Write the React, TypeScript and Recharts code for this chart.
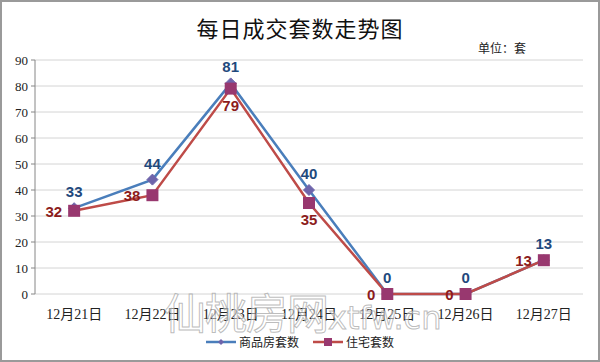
import React from 'react';
import { LineChart, Line, XAxis, YAxis, CartesianGrid, LabelList } from 'recharts';

const categories = ['12月21日', '12月22日', '12月23日', '12月24日', '12月25日', '12月26日', '12月27日'];
const commercialUnits = [33, 44, 81, 40, 0, 0, 13];
const residentialUnits = [32, 38, 79, 35, 0, 0, 13];
const yTicks = [0, 10, 20, 30, 40, 50, 60, 70, 80, 90];
// series 2 labels: which ones sit below the marker (the rest sit to its left)
const residentialBelow = [false, false, true, true, false, false, false];

const BLUE_LINE = '#4a7ebb';
const BLUE_MARK = '#6e64ab';
const BLUE_TEXT = '#1f497d';
const RED_LINE = '#be4b48';
const RED_MARK = '#98386f';
const RED_TEXT = '#8c1c1c';

const data = categories.map((day, i) => ({
  day,
  idx: i + 0.5,
  commercial: commercialUnits[i],
  residential: residentialUnits[i],
}));

const centerTicks = categories.map((_, i) => i + 0.5);
const boundaryTicks = [0, ...categories.map((_, i) => i + 1)];

const labelFont = 'Arial, "Liberation Sans", sans-serif';
const cjkFont = '"Noto Sans CJK SC", sans-serif';

function Diamond(props: any) {
  const { cx, cy } = props;
  if (cx == null || cy == null) return null;
  const r = 5.5;
  return (
    <path
      d={`M${cx},${cy - r} L${cx + r},${cy} L${cx},${cy + r} L${cx - r},${cy} Z`}
      fill={BLUE_MARK}
      stroke={BLUE_MARK}
    />
  );
}

function Square(props: any) {
  const { cx, cy } = props;
  if (cx == null || cy == null) return null;
  const r = 6;
  return <rect x={cx - r} y={cy - r} width={r * 2} height={r * 2} fill={RED_MARK} />;
}

function TopLabel(props: any) {
  const { x, y, value } = props;
  return (
    <text
      x={x}
      y={y - 11}
      textAnchor="middle"
      fill={BLUE_TEXT}
      fontSize={15}
      fontWeight="bold"
      fontFamily={labelFont}
    >
      {value}
    </text>
  );
}

function SideLabel(props: any) {
  const { x, y, value, index } = props;
  if (residentialBelow[index]) {
    return (
      <text
        x={x}
        y={y + 22}
        textAnchor="middle"
        fill={RED_TEXT}
        fontSize={15}
        fontWeight="bold"
        fontFamily={labelFont}
      >
        {value}
      </text>
    );
  }
  return (
    <text
      x={x - 12}
      y={y + 6}
      textAnchor="end"
      fill={RED_TEXT}
      fontSize={15}
      fontWeight="bold"
      fontFamily={labelFont}
    >
      {value}
    </text>
  );
}

function LegendBox() {
  const item = (label: string, color: string, marker: React.ReactNode) => (
    <div style={{ display: 'flex', alignItems: 'center', gap: 3 }}>
      <svg width={30} height={12}>
        <line x1={0} y1={6} x2={30} y2={6} stroke={color} strokeWidth={2.5} />
        {marker}
      </svg>
      <span>{label}</span>
    </div>
  );
  return (
    <div
      style={{
        position: 'absolute',
        left: -2,
        top: 331,
        width: 600,
        display: 'flex',
        justifyContent: 'center',
        gap: 14,
        fontFamily: cjkFont,
        fontSize: 12,
        color: '#222',
      }}
    >
      {item('商品房套数', BLUE_LINE, <path d="M15,3 L18,6 L15,9 L12,6 Z" fill={BLUE_MARK} />)}
      {item('住宅套数', RED_LINE, <rect x={11} y={2} width={8} height={8} fill={RED_MARK} />)}
    </div>
  );
}

export default function App() {
  return (
    <div
      style={{
        position: 'absolute',
        left: 0,
        top: 0,
        width: 600,
        height: 362,
        background: '#fff',
        boxSizing: 'border-box',
        border: '2px solid #9a9a9a',
        overflow: 'hidden',
      }}
    >
      <div
        style={{
          position: 'absolute',
          left: -2,
          top: 9,
          width: 600,
          textAlign: 'center',
          fontFamily: cjkFont,
          fontSize: 22,
          color: '#111',
          letterSpacing: 1,
        }}
      >
        每日成交套数走势图
      </div>
      <div
        style={{
          position: 'absolute',
          left: 476,
          top: 37,
          fontFamily: cjkFont,
          fontSize: 12,
          color: '#222',
        }}
      >
        单位：套
      </div>
      <div style={{ position: 'absolute', left: -2, top: -2 }}>
        <LineChart
          width={600}
          height={362}
          data={data}
          margin={{ top: 60, right: 17, bottom: 37, left: 0 }}
        >
          <CartesianGrid vertical={false} stroke="#d4d4d4" strokeWidth={1} />
          <XAxis
            xAxisId="num"
            type="number"
            dataKey="idx"
            domain={[0, 7]}
            ticks={boundaryTicks}
            tick={false}
            tickSize={5}
            height={0}
            stroke="#868686"
          />
          <XAxis
            xAxisId="cat"
            type="number"
            dataKey="idx"
            domain={[0, 7]}
            ticks={centerTicks}
            tickFormatter={(v: number) => categories[Math.floor(v)]}
            height={31}
            axisLine={false}
            tickLine={false}
            tick={{ fill: '#222', fontSize: 14, fontFamily: '"Liberation Serif", "Noto Sans CJK SC", serif' }}
            tickMargin={9}
            interval={0}
          />
          <YAxis
            domain={[0, 90]}
            ticks={yTicks}
            width={35}
            stroke="#868686"
            tickSize={4}
            tickMargin={3}
            tick={{ fill: '#222', fontSize: 13, fontFamily: '"Liberation Serif", serif' }}
          />
          <Line
            xAxisId="num"
            dataKey="commercial"
            name="商品房套数"
            stroke={BLUE_LINE}
            strokeWidth={2.5}
            dot={<Diamond />}
            isAnimationActive={false}
          >
            <LabelList dataKey="commercial" content={<TopLabel />} />
          </Line>
          <Line
            xAxisId="num"
            dataKey="residential"
            name="住宅套数"
            stroke={RED_LINE}
            strokeWidth={2.5}
            dot={<Square />}
            isAnimationActive={false}
          >
            <LabelList dataKey="residential" content={<SideLabel />} />
          </Line>
        </LineChart>
      </div>
      <LegendBox />
      <div
        style={{
          position: 'absolute',
          left: 162,
          top: 288,
          fontFamily: cjkFont,
          fontSize: 42,
          color: 'rgba(255,255,255,0.5)',
          WebkitTextStroke: '1px rgba(160,160,160,0.7)',
          whiteSpace: 'nowrap',
          pointerEvents: 'none',
          letterSpacing: -1,
          lineHeight: 1,
        }}
      >
        仙桃房网
        <span style={{ fontSize: 32, fontFamily: '"DejaVu Sans", sans-serif', letterSpacing: 0 }}>xtfw.cn</span>
      </div>
    </div>
  );
}
